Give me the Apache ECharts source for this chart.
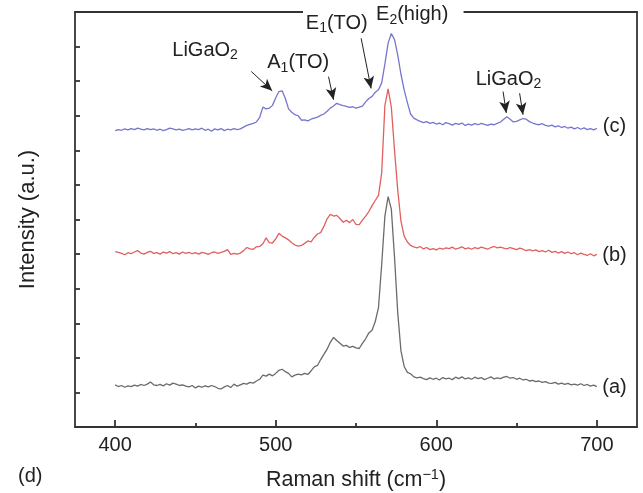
<!DOCTYPE html>
<html><head><meta charset="utf-8">
<script src="https://cdn.jsdelivr.net/npm/echarts@6/dist/echarts.min.js"></script>
<style>html,body{margin:0;padding:0;background:#fff}#c{width:643px;height:493px}</style>
</head><body><div id="c"></div>
<script>
// Raman shift grid (cm^-1): 400..700, step 2
const shiftStart = 400, shiftStep = 2;
// (a) gray
const intensityA = [
1.22,1.17,1.20,1.15,1.19,1.17,1.21,1.18,1.23,1.20,1.24,
1.30,1.22,1.20,1.23,1.19,1.25,1.21,1.27,1.24,1.20,1.22,1.18,1.16,1.20,1.13,
1.18,1.15,1.19,1.16,1.20,1.17,1.12,1.10,1.16,1.20,1.14,1.24,1.18,1.22,1.26,
1.24,1.29,1.27,1.33,1.38,1.50,1.47,1.53,1.48,1.55,
1.64,1.67,1.60,1.55,1.45,1.50,1.53,1.51,1.55,1.52,1.62,1.74,1.78,1.95,2.10,
2.25,2.45,2.59,2.50,2.42,2.34,2.36,2.30,2.33,2.29,2.27,2.42,2.55,2.72,2.80,
3.05,3.45,4.70,6.10,6.66,6.30,4.90,3.30,2.20,1.75,1.58,1.54,
1.45,1.42,1.44,1.40,1.37,1.42,1.38,1.41,1.36,1.43,1.39,1.41,1.37,1.44,1.40,1.45,1.39,1.42,
1.38,1.44,1.40,1.43,1.37,1.41,1.45,1.39,1.42,1.40,1.44,1.46,1.41,1.43,1.38,
1.41,1.36,1.38,1.33,1.35,1.31,1.33,1.29,1.31,1.27,1.26,1.29,1.24,1.27,1.23,1.26,1.22,1.24,1.21,1.25,1.20,1.23,1.18,1.21,1.17
];
// (b) red
const intensityB = [
5.07,5.05,5.02,4.98,5.04,5.01,5.06,5.10,5.03,5.00,5.05,
5.08,5.02,5.04,5.00,5.06,5.03,5.07,5.01,5.04,5.00,5.06,5.02,5.05,5.01,5.04,
5.00,5.05,5.03,4.99,5.04,5.06,5.02,5.05,5.08,5.13,4.99,5.02,5.00,5.03,5.10,
5.19,5.15,5.14,5.21,5.22,5.30,5.47,5.33,5.32,5.44,
5.60,5.52,5.47,5.41,5.33,5.26,5.23,5.25,5.31,5.38,5.35,5.48,5.58,5.62,5.80,
6.02,6.15,6.10,6.12,6.03,5.92,5.98,5.91,6.00,5.86,5.85,5.98,6.10,6.23,6.40,
6.55,6.70,7.35,9.30,9.78,9.25,8.00,6.85,5.95,5.52,5.35,5.25,
5.21,5.18,5.22,5.15,5.19,5.13,5.16,5.12,5.17,5.14,5.18,5.16,5.20,5.14,5.17,5.21,5.15,5.18,
5.14,5.19,5.16,5.20,5.17,5.14,5.19,5.22,5.18,5.20,5.17,5.15,5.19,5.16,5.13,
5.17,5.14,5.10,5.13,5.09,5.12,5.07,5.10,5.06,5.11,5.05,5.08,5.03,5.07,5.02,5.06,5.01,5.04,4.98,5.03,4.99,4.96,5.01,4.95,4.99
];
// (c) blue
const intensityC = [
8.57,8.60,8.58,8.62,8.59,8.63,8.60,8.64,8.61,8.59,8.63,
8.60,8.62,8.58,8.61,8.57,8.60,8.64,8.62,8.59,8.61,8.58,8.60,8.63,8.59,8.62,
8.60,8.64,8.58,8.61,8.55,8.62,8.59,8.63,8.57,8.61,8.59,8.63,8.60,8.62,8.67,
8.72,8.75,8.78,8.82,8.95,9.25,9.20,9.22,9.30,9.52,
9.70,9.72,9.50,9.20,9.10,9.03,9.00,8.87,8.88,8.85,8.90,8.93,8.96,9.01,9.05,
9.13,9.22,9.28,9.36,9.32,9.29,9.27,9.24,9.26,9.22,9.25,9.28,9.40,9.50,9.56,
9.68,9.75,9.95,10.50,11.10,11.38,11.20,10.75,10.20,9.75,9.38,9.05,
8.93,8.88,8.84,8.80,8.83,8.78,8.81,8.76,8.79,8.74,8.80,8.77,8.73,8.78,8.75,8.79,8.72,8.76,
8.73,8.77,8.74,8.78,8.75,8.72,8.76,8.74,8.78,8.82,8.90,8.97,8.90,8.82,8.84,
8.88,8.92,8.90,8.83,8.79,8.76,8.74,8.77,8.72,8.70,8.73,8.68,8.71,8.66,8.69,8.64,8.67,8.62,8.66,8.61,8.65,8.60,8.63,8.59,8.64
];
const xMajorTicks = [400, 500, 600, 700];
const xMinorTicks = [450, 550, 650];
const seriesNames = ['(a)', '(b)', '(c)'];

// annotations: [text, x, y] in data space
const annotations = [
  ['LiGaO{s|2}', 456, 10.9],
  ['A{s|1}(TO)', 514, 10.55],
  ['E{s|1}(TO)', 538, 11.68],
  ['E{s|2}(high)', 585, 11.92],
  ['LiGaO{s|2}', 645, 10.06],
  ['(c)', 711, 8.68],
  ['(b)', 711, 4.97],
  ['(a)', 711, 1.13]
];
// arrows: [x1,y1,x2,y2]
const arrows = [
  [484.8, 10.28, 497.8, 9.72],
  [532.9, 10.13, 536.0, 9.46],
  [553.2, 11.24, 559.4, 9.79],
  [641.6, 9.70, 643.6, 9.08],
  [651.9, 9.65, 654.0, 9.03]
];

const FONT = '"Liberation Sans", Arial, sans-serif';
const shifts = intensityA.map((_, i) => shiftStart + shiftStep * i);
const pairs = arr => arr.map((v, i) => [shifts[i], v]);

const chart = echarts.init(document.getElementById('c'), null, {renderer: 'canvas'});
const axisLineStyle = {color: '#333', width: 1.8};
chart.setOption({
  animation: false,
  backgroundColor: '#fff',
  grid: {left: 75, right: 6, top: 12, bottom: 66, containLabel: false, outerBoundsMode: 'none'},
  xAxis: [
    {type: 'value', position: 'bottom', min: 375, max: 725,
     axisLine: {show: true, lineStyle: axisLineStyle},
     axisTick: {show: true, inside: true, length: 7, lineStyle: {color: '#333', width: 1.8}, customValues: xMajorTicks},
     axisLabel: {show: true, customValues: xMajorTicks, fontSize: 20, color: '#222', fontFamily: FONT, margin: 8},
     splitLine: {show: false},
     name: 'Raman shift (cm{sup|−1})', nameLocation: 'middle', nameGap: 40,
     nameTextStyle: {fontSize: 21.5, color: '#222', fontFamily: FONT, lineHeight: 26,
       rich: {sup: {fontSize: 14.5, fontFamily: FONT, color: '#222', verticalAlign: 'top', lineHeight: 9}}}
    },
    {type: 'value', position: 'bottom', min: 375, max: 725,
     axisLine: {show: false},
     axisTick: {show: true, inside: true, length: 4, lineStyle: {color: '#333', width: 1.8}, customValues: xMinorTicks},
     axisLabel: {show: false}, splitLine: {show: false}},
    {type: 'value', position: 'top', min: 375, max: 725,
     axisLine: {show: true, lineStyle: axisLineStyle},
     axisTick: {show: false}, axisLabel: {show: false}, splitLine: {show: false}}
  ],
  yAxis: [
    {type: 'value', position: 'left', min: 0, max: 12, interval: 1,
     axisLine: {show: true, lineStyle: axisLineStyle},
     axisTick: {show: true, inside: true, length: 5, lineStyle: {color: '#333', width: 1.8}},
     axisLabel: {show: false}, splitLine: {show: false},
     name: 'Intensity (a.u.)', nameLocation: 'middle', nameGap: 36, nameRotate: 90,
     nameTextStyle: {fontSize: 22, color: '#222', fontFamily: FONT}},
    {type: 'value', position: 'right', min: 0, max: 12,
     axisLine: {show: true, lineStyle: axisLineStyle},
     axisTick: {show: false}, axisLabel: {show: false}, splitLine: {show: false}}
  ],
  series: [
    {name: seriesNames[0], type: 'line', data: pairs(intensityA), showSymbol: false,
     lineStyle: {color: '#6b6b6b', width: 1.3}, itemStyle: {color: '#6b6b6b'}, z: 3},
    {name: seriesNames[1], type: 'line', data: pairs(intensityB), showSymbol: false,
     lineStyle: {color: '#e06060', width: 1.3}, itemStyle: {color: '#e06060'}, z: 3},
    {name: seriesNames[2], type: 'line', data: pairs(intensityC), showSymbol: false,
     lineStyle: {color: '#7676cc', width: 1.3}, itemStyle: {color: '#7676cc'}, z: 3,
     markLine: {silent: true, symbol: ['none', 'arrow'], symbolSize: [8, 12], label: {show: false},
       lineStyle: {color: '#222', width: 1, type: 'solid'},
       emphasis: {disabled: true},
       data: arrows.map(a => [{coord: [a[0], a[1]]}, {coord: [a[2], a[3]]}])}}
  ]
});

const toPx = (x, y) => chart.convertToPixel({gridIndex: 0}, [x, y]);
const gapL = toPx(517, 12), gapR = toPx(617, 12);
const graphics = [
  {type: 'rect', z: 50, shape: {x: gapL[0], y: gapL[1] - 4, width: gapR[0] - gapL[0], height: 8}, style: {fill: '#fff'}}
];
annotations.forEach(a => {
  const p = toPx(a[1], a[2]);
  graphics.push({type: 'text', z: 60, x: p[0], y: p[1], style: {
    text: a[0], fill: '#222', font: '20px ' + FONT, align: 'center', verticalAlign: 'middle', lineHeight: 25,
    rich: {s: {fontSize: 14, fontFamily: FONT, fill: '#222', verticalAlign: 'bottom', lineHeight: 8}}
  }});
});
graphics.push({type: 'text', z: 60, left: 18, top: 466, style: {text: '(d)', fill: '#222', font: '20px ' + FONT}});
chart.setOption({graphic: graphics});
</script>
</body></html>
